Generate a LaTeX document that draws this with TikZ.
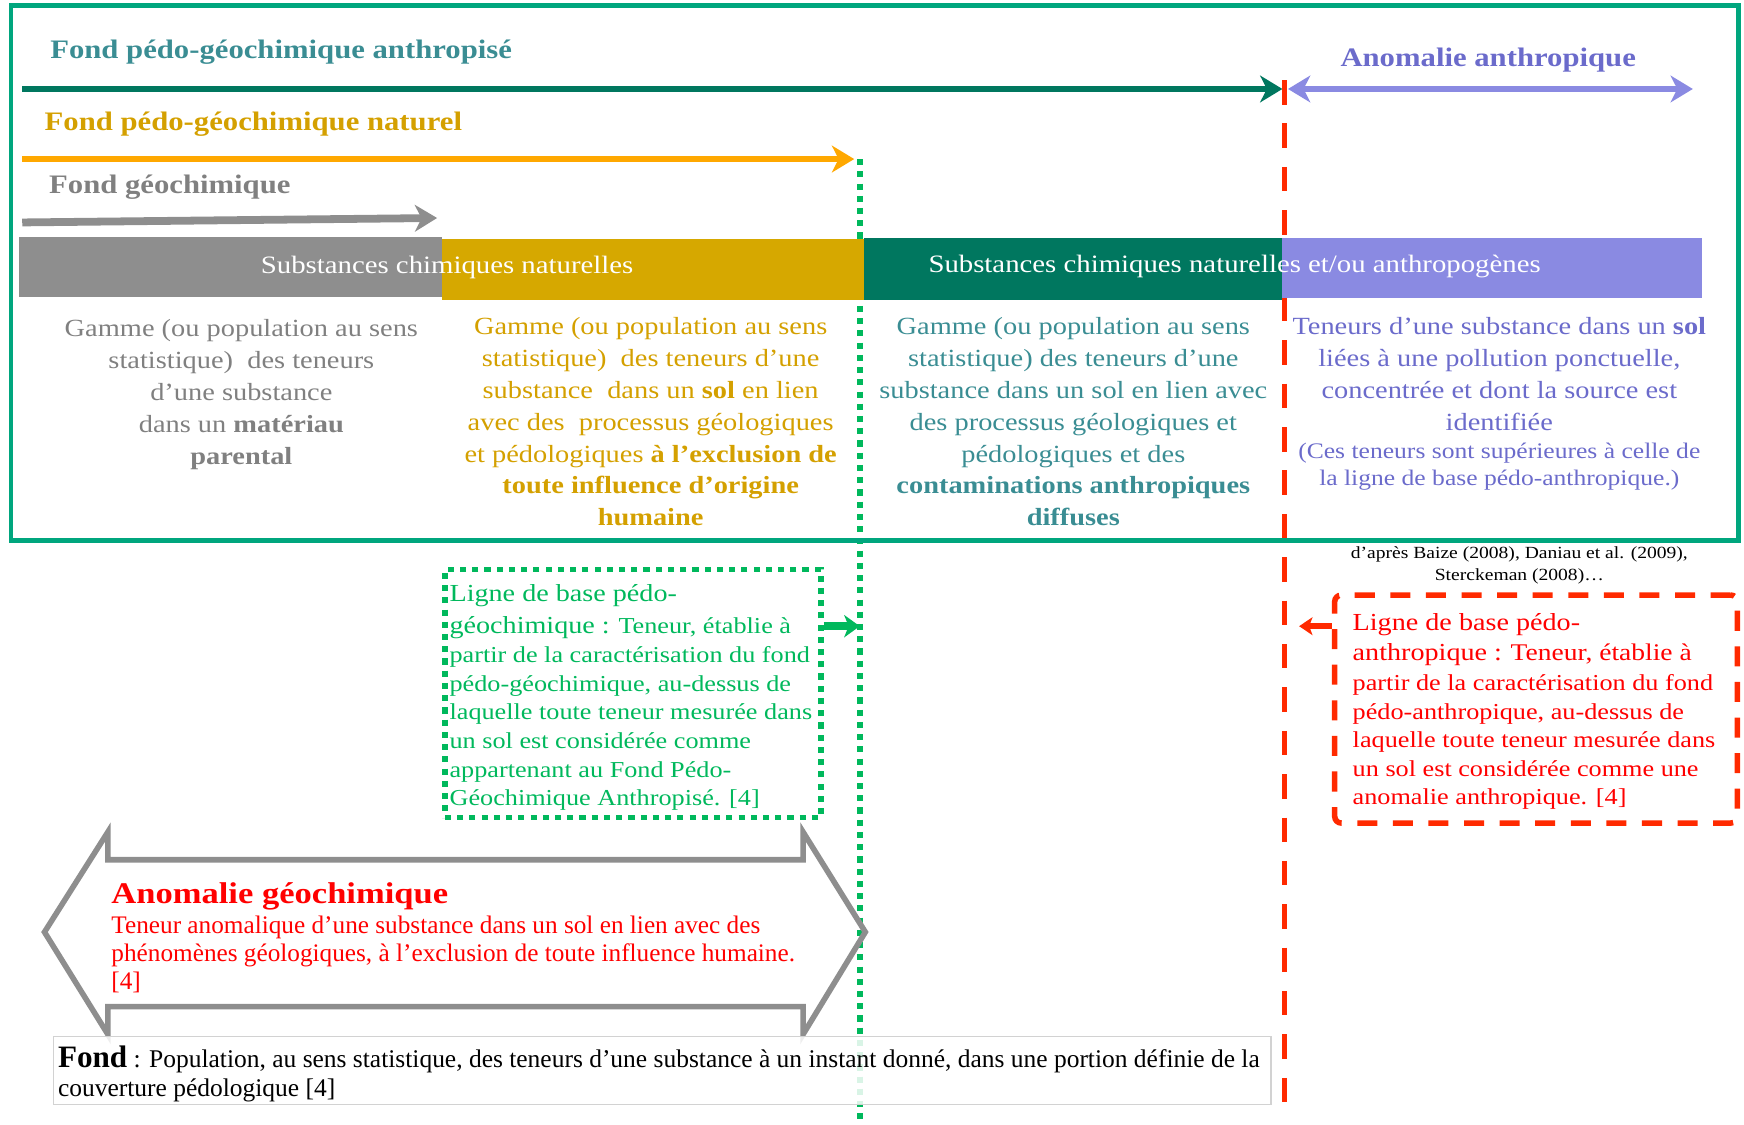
\documentclass[tikz,border=0pt]{standalone}
\usepackage{fontspec}
\setmainfont[FakeStretch=1.15]{Liberation Serif}
\newfontfamily\plainfont{Liberation Serif}
\usetikzlibrary{arrows.meta}
\definecolor{framegreen}{HTML}{00A67E}
\definecolor{darkgreen}{HTML}{00775F}
\definecolor{tealtxt}{HTML}{3A8D93}
\definecolor{goldtxt}{HTML}{D4A000}
\definecolor{goldbar}{HTML}{D6A800}
\definecolor{orangearr}{HTML}{FFA800}
\definecolor{graybar}{HTML}{8E8E8E}
\definecolor{graytxt}{HTML}{808080}
\definecolor{lavbar}{HTML}{8A8AE2}
\definecolor{lavtxt}{HTML}{6B6BCB}
\definecolor{dotgreen}{HTML}{00B85C}
\definecolor{redline}{HTML}{FF2A00}
\definecolor{redtxt}{HTML}{FF0000}
\tikzset{
  titletxt/.style={inner sep=0pt, font=\fontsize{24}{28}\selectfont\bfseries},
  bartxt/.style={inner sep=0pt, text=white, font=\fontsize{22.5}{26}\selectfont},
  coltxt/.style={inner sep=0pt, align=center, font=\fontsize{22.2}{28.7}\selectfont},
  boxtxt/.style={inner sep=0pt, align=left, font=\fontsize{20.5}{25.7}\selectfont},
  greendots/.style={dotgreen, line width=5.5pt, dash pattern=on 5.5pt off 5.5pt},
  reddash/.style={redline, line width=5pt, dash pattern=on 22pt off 17pt},
}
\begin{document}
\begin{tikzpicture}[x=1pt,y=-1pt]
\useasboundingbox (0,0) rectangle (1568,1011);

% vertical lines
\coordinate (gTop) at (773,143);
\coordinate (gBot) at (773,1010);
\coordinate (rTop) at (1155,72);
\coordinate (rBot) at (1155,1000);
\draw[greendots] (gTop) -- (gBot);

% top arrows
\coordinate (a1s) at (20,80);
\coordinate (a1e) at (1153,80);
\draw[darkgreen, line width=6pt, -{Stealth[length=20pt,width=24pt,inset=6pt]}] (a1s) -- (a1e);
\coordinate (a2s) at (1158,80);
\coordinate (a2e) at (1522,80);
\draw[lavbar, line width=6pt, {Stealth[length=20pt,width=24pt,inset=6pt]}-{Stealth[length=20pt,width=24pt,inset=6pt]}] (a2s) -- (a2e);
\coordinate (a3s) at (20,143);
\coordinate (a3e) at (768,143);
\draw[orangearr, line width=6pt, -{Stealth[length=20pt,width=24pt,inset=6pt]}] (a3s) -- (a3e);
\coordinate (a4s) at (20,200);
\coordinate (a4e) at (393,196);
\draw[graybar, line width=7pt, -{Stealth[length=20pt,width=24pt,inset=6pt]}] (a4s) -- (a4e);

\draw[reddash] (rTop) -- (rBot);

% titles
\node[titletxt, text=tealtxt, anchor=base west] (tAnth) at (45,53) {Fond pédo-géochimique anthropisé};
\node[titletxt, text=lavtxt, anchor=base] (tAnom) at (1338,60) {Anomalie anthropique};
\node[titletxt, text=goldtxt, anchor=base west] (tNat) at (40,117) {Fond pédo-géochimique naturel};
\node[titletxt, text=graytxt, anchor=base west] (tGeo) at (44,174) {Fond géochimique};

% bars
\fill[graybar] (17,213) rectangle (397,267);
\fill[goldbar] (397,215) rectangle (777,270);
\fill[darkgreen] (777,214) rectangle (1153,270);
\fill[lavbar] (1153,214) rectangle (1530,268);
\node[bartxt, anchor=base] (bar1) at (402,246) {Substances chimiques naturelles};
\node[bartxt, anchor=base] (bar2) at (1110,245) {Substances chimiques naturelles et/ou anthropogènes};

% columns
\node[coltxt, text=graytxt, anchor=north] (col1) at (217,287) {Gamme (ou population au sens\\statistique)\ \ des teneurs\\d’une substance\\dans un \textbf{matériau}\\\textbf{parental}};
\node[coltxt, text=goldtxt, anchor=north] (col2) at (585,285) {Gamme (ou population au sens\\statistique)\ \ des teneurs d’une\\substance\ \ dans un \textbf{sol} en lien\\avec des\ \ processus géologiques\\et pédologiques \textbf{à l’exclusion de}\\\textbf{toute influence d’origine}\\\textbf{humaine}};
\node[coltxt, text=tealtxt, anchor=north] (col3) at (965,285) {Gamme (ou population au sens\\statistique) des teneurs d’une\\substance dans un sol en lien avec\\des processus géologiques et\\pédologiques et des\\\textbf{contaminations anthropiques}\\\textbf{diffuses}};
\node[coltxt, text=lavtxt, anchor=north] (col4) at (1348,285) {Teneurs d’une substance dans un \textbf{sol}\\liées à une pollution ponctuelle,\\concentrée et dont la source est\\identifiée\\[-3pt]\fontsize{20}{24}\selectfont (Ces teneurs sont supérieures à celle de\\[-5pt]\fontsize{20}{24}\selectfont la ligne de base pédo-anthropique.)};

% frame
\draw[framegreen, line width=4pt] (10,5) rectangle (1563,486);

% source
\node[inner sep=0pt, align=center, anchor=north, font=\fontsize{15.3}{20}\selectfont] (src) at (1366,491) {d’après Baize (2008), Daniau et al. (2009),\\Sterckeman (2008)…};

% green box
\node[draw=dotgreen, line width=5pt, dash pattern=on 5.5pt off 5.5pt, minimum width=338pt, minimum height=223pt, inner sep=0pt] (gbox) at (569,623.5) {};
\node[boxtxt, text=dotgreen, anchor=north west] (gtext) at (404,525) {{\fontsize{22}{28}\selectfont Ligne de base pédo-}\\[3pt]{\fontsize{22}{28}\selectfont géochimique :} Teneur, établie à\\[1pt]partir de la caractérisation du fond\\pédo-géochimique, au-dessus de\\laquelle toute teneur mesurée dans\\un sol est considérée comme\\appartenant au Fond Pédo-\\Géochimique Anthropisé. [4]};
\coordinate (gArr) at (773,563);
\draw[dotgreen, line width=7pt, -{Stealth[length=14pt,width=20pt,inset=4pt]}] (gbox.east |- gArr) -- (gArr);

% red box
\node[draw=redline, line width=5pt, dash pattern=on 18pt off 14pt, rounded corners=6pt, minimum width=362pt, minimum height=205pt, inner sep=0pt] (rbox) at (1381,637.5) {};
\node[boxtxt, text=redtxt, anchor=north west] (rtext) at (1216,551) {{\fontsize{22}{28}\selectfont Ligne de base pédo-}\\[2pt]{\fontsize{22}{28}\selectfont anthropique :} {\fontsize{21.5}{26}\selectfont Teneur, établie à}\\[1pt]partir de la caractérisation du fond\\pédo-anthropique, au-dessus de\\laquelle toute teneur mesurée dans\\un sol est considérée comme une\\anomalie anthropique. [4]};
\coordinate (rArr) at (1168,563);
\draw[redline, line width=5pt, -{Stealth[length=12pt,width=16pt,inset=3pt]}] (rbox.west |- rArr) -- (rArr);

% big double arrow
\draw[graybar, line width=5pt, line join=miter] (40,838) -- (97,748) -- (97,773) -- (722,773) -- (722,748) -- (778,838) -- (722,930) -- (722,905) -- (97,905) -- (97,930) -- cycle;
\node[inner sep=0pt, anchor=base west, text=redtxt, font=\fontsize{27}{32}\selectfont\bfseries] (anoT) at (100,812) {Anomalie géochimique};
\node[inner sep=0pt, anchor=north west, align=left, text=redtxt, font=\plainfont\fontsize{22.7}{25.5}\selectfont] (anoB) at (100,823) {Teneur anomalique d’une substance dans un sol en lien avec des\\phénomènes géologiques, à l’exclusion de toute influence humaine.\\{}[4]};

% fond box
\node[draw=gray!35, line width=1.5pt, fill=white, fill opacity=0.85, text opacity=1, minimum width=1095pt, minimum height=61pt, inner sep=0pt] (fbox) at (595.5,962.5) {};
\node[inner sep=0pt, anchor=north west, align=left, font=\plainfont\fontsize{22.9}{26}\selectfont] (ftext) at (52,940) {{\fontsize{28}{26}\selectfont\bfseries Fond} : Population, au sens statistique, des teneurs d’une substance à un instant donné, dans une portion définie de la\\couverture pédologique [4]};
\end{tikzpicture}
\end{document}
